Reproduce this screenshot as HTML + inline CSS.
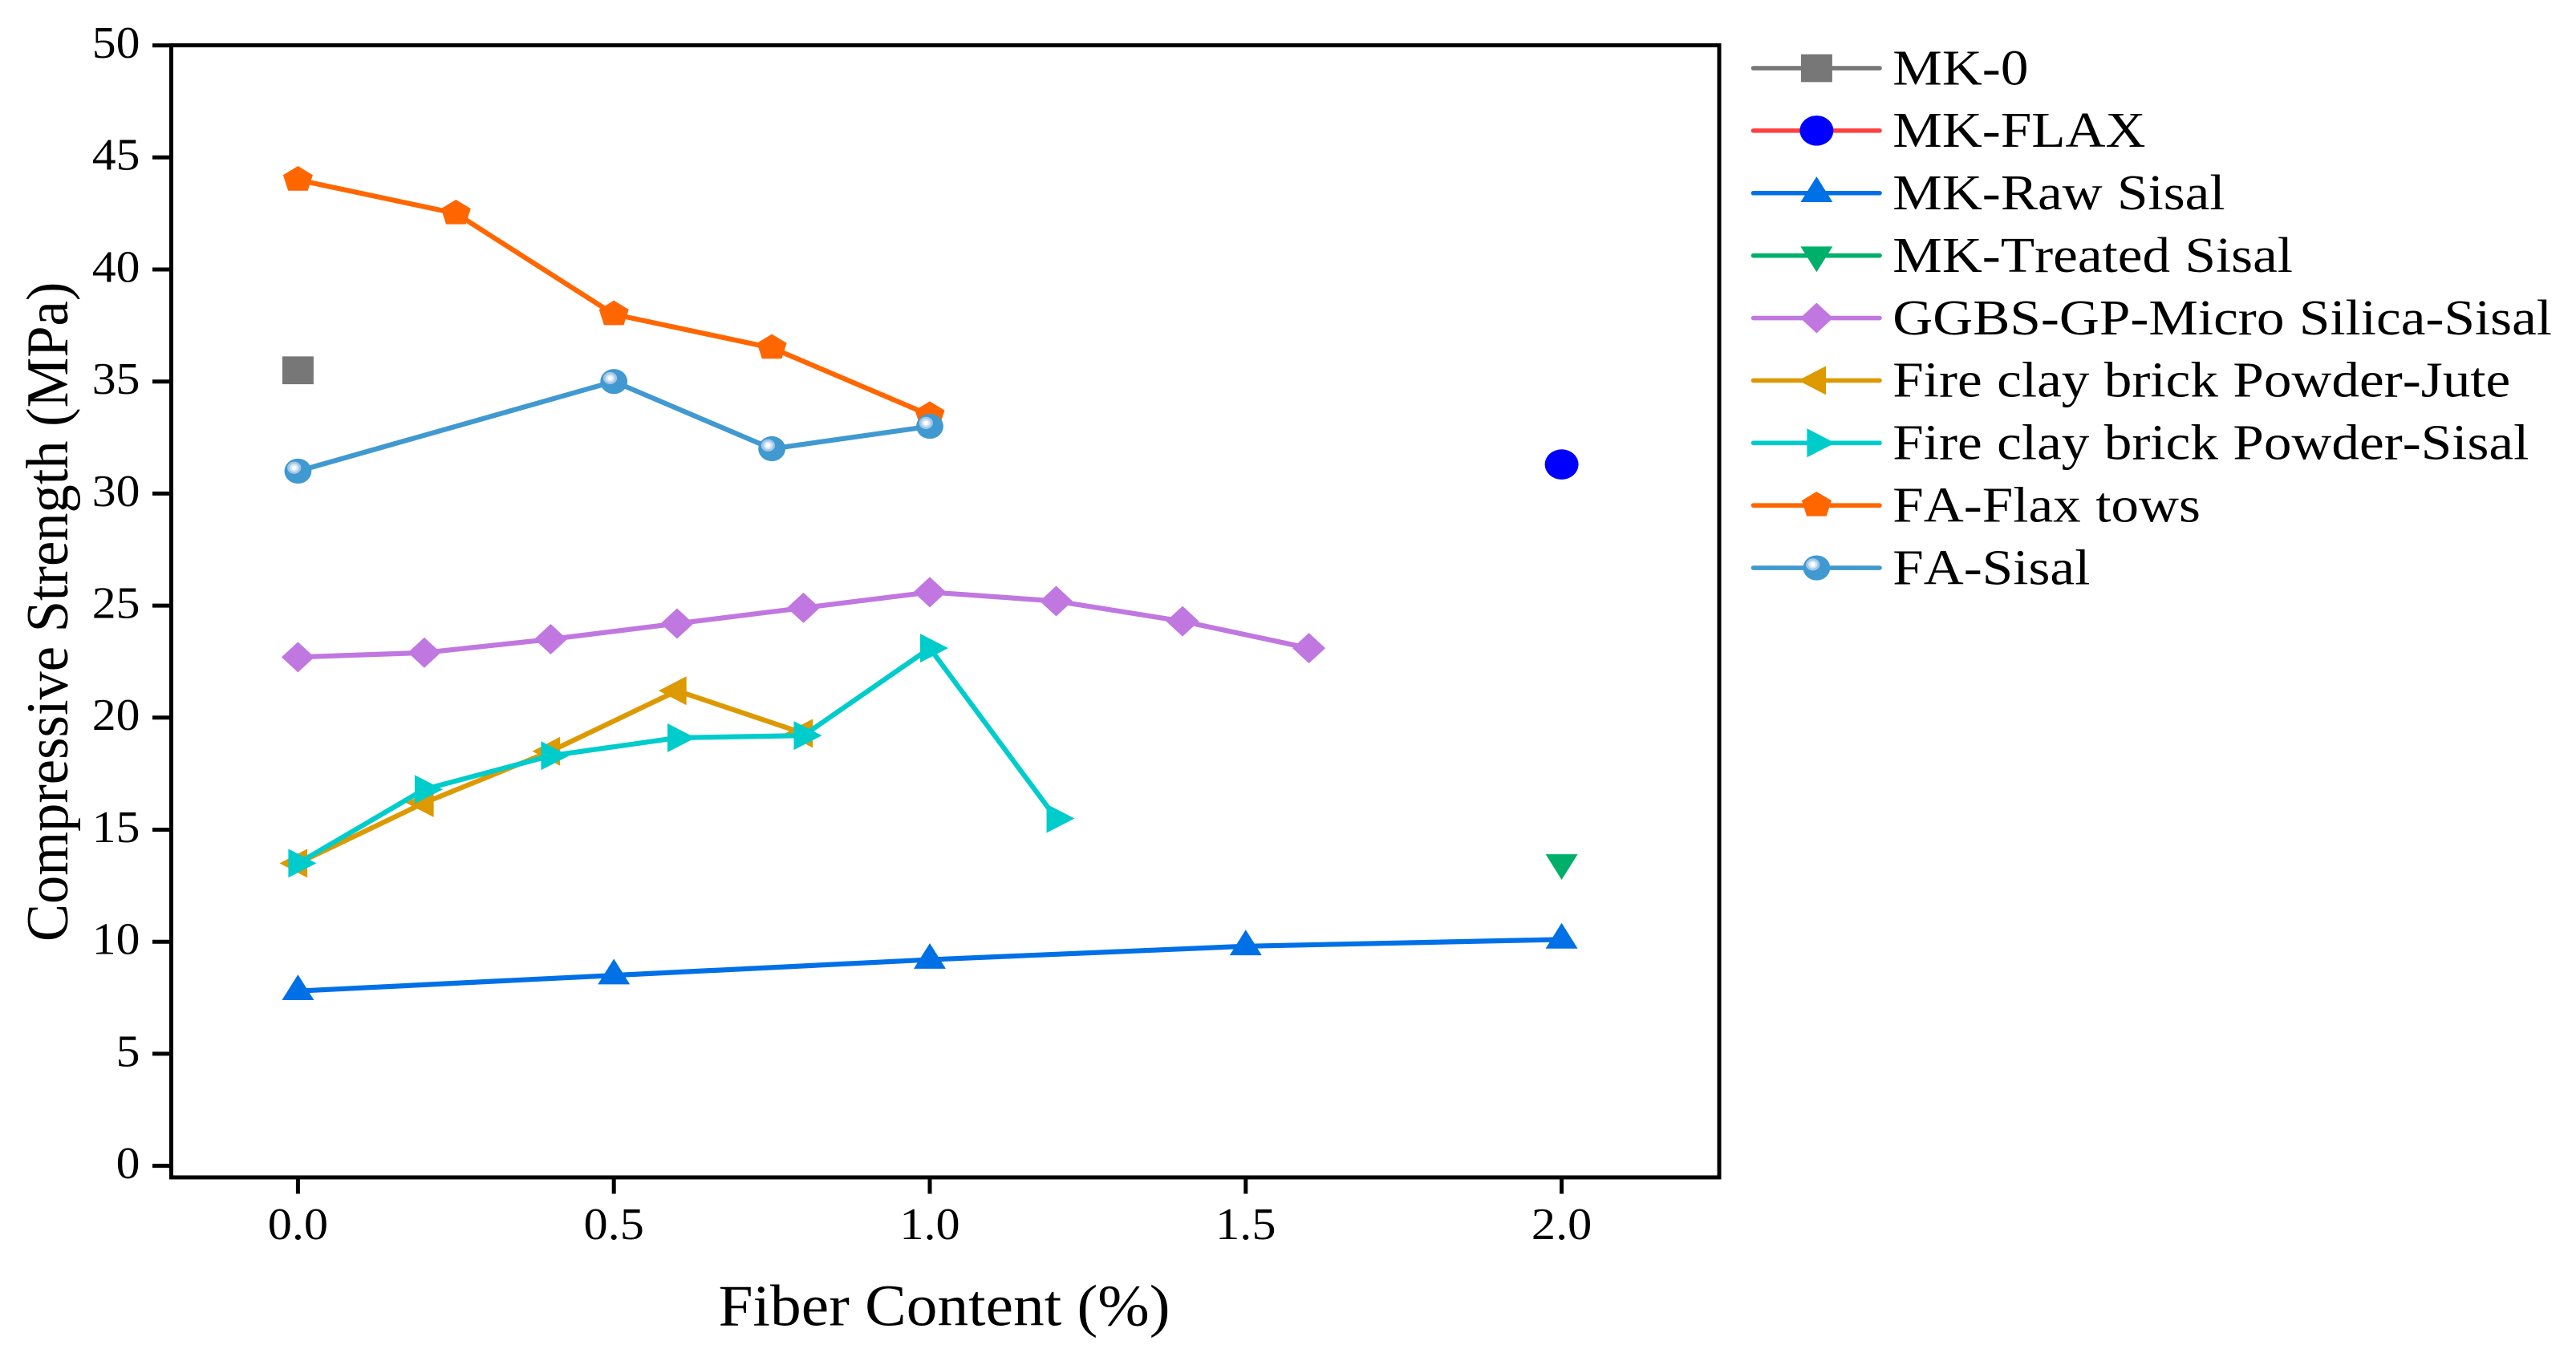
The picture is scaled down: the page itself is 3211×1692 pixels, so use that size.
<!DOCTYPE html>
<html lang="en">
<head>
<meta charset="utf-8">
<title>Compressive Strength vs Fiber Content</title>
<style>
html,body{margin:0;padding:0;background:#fff;}
svg{display:block;}
text{font-family:"Liberation Serif",serif;fill:#000;font-kerning:none;}
</style>
</head>
<body>
<svg id="chart" xmlns="http://www.w3.org/2000/svg" width="3211" height="1692" viewBox="0 0 3211 1692">
  <rect width="3211" height="1692" fill="#fff"/>
  <g id="plot"></g>
  <rect x="213.5" y="56.5" width="1929.5" height="1411.5" fill="none" stroke="#000" stroke-width="5"/>
  <g id="ticks"></g>
  <text transform="translate(895.5,1652.3) scale(1.06,1)" font-size="73">Fiber Content (%)</text>
  <text transform="translate(84,1174) scale(1.055,1) rotate(-90)" font-size="70.5">Compressive Strength (MPa)</text>
  <g id="legend"></g>
</svg>
<script>
const xTicks = [0, 0.5, 1, 1.5, 2];
const xTickLabels = ['0.0', '0.5', '1.0', '1.5', '2.0'];
const yTicks = [0, 5, 10, 15, 20, 25, 30, 35, 40, 45, 50];
const yTickLabels = ['0', '5', '10', '15', '20', '25', '30', '35', '40', '45', '50'];

const seriesNames = ['MK-0', 'MK-FLAX', 'MK-Raw Sisal', 'MK-Treated Sisal', 'GGBS-GP-Micro Silica-Sisal', 'Fire clay brick Powder-Jute', 'Fire clay brick Powder-Sisal', 'FA-Flax tows', 'FA-Sisal'];

const mk0X = [0];
const mk0Y = [35.5];
const mkFlaxX = [2];
const mkFlaxY = [31.3];
const mkRawSisalX = [0, 0.5, 1, 1.5, 2];
const mkRawSisalY = [7.8, 8.5, 9.2, 9.8, 10.1];
const mkTreatedSisalX = [2];
const mkTreatedSisalY = [13.5];
const ggbsX = [0, 0.2, 0.4, 0.6, 0.8, 1, 1.2, 1.4, 1.6];
const ggbsY = [22.7, 22.9, 23.5, 24.2, 24.9, 25.6, 25.2, 24.3, 23.1];
const brickJuteX = [0, 0.2, 0.4, 0.6, 0.8];
const brickJuteY = [13.5, 16.2, 18.5, 21.2, 19.3];
const brickSisalX = [0, 0.2, 0.4, 0.6, 0.8, 1, 1.2];
const brickSisalY = [13.5, 16.8, 18.3, 19.1, 19.2, 23.1, 15.5];
const faFlaxX = [0, 0.25, 0.5, 0.75, 1];
const faFlaxY = [44, 42.5, 38, 36.5, 33.5];
const faSisalX = [0, 0.5, 0.75, 1];
const faSisalY = [31, 35, 32, 33];

const allX = [mk0X, mkFlaxX, mkRawSisalX, mkTreatedSisalX, ggbsX, brickJuteX, brickSisalX, faFlaxX, faSisalX];
const allY = [mk0Y, mkFlaxY, mkRawSisalY, mkTreatedSisalY, ggbsY, brickJuteY, brickSisalY, faFlaxY, faSisalY];
const lineColors = ['#777777', '#ff4040', '#0070e6', '#00b06a', '#c078e0', '#dd9900', '#00cccc', '#ff6600', '#4099d0'];
const markerColors = ['#777777', '#0000ff', '#0070e6', '#00b06a', '#c078e0', '#dd9900', '#00cccc', '#ff6600', '#4099d0'];
const markerShapes = ['square', 'circle', 'up', 'down', 'diamond', 'left', 'right', 'pentagon', 'sphere'];

const SVGNS = 'http://www.w3.org/2000/svg';
const scaleX = v => 371.4 + v * 787.6;
const scaleY = v => 1453.6 - v * 27.94;

function make(tag, attrs) {
  const el = document.createElementNS(SVGNS, tag);
  for (const k in attrs) el.setAttribute(k, attrs[k]);
  return el;
}

function polygonPoints(cx, cy, pts) {
  return pts.map(p => (cx + p[0]) + ',' + (cy + p[1])).join(' ');
}

function makeMarker(shape, cx, cy, fill) {
  if (shape === 'square') return make('rect', {x: cx - 19.5, y: cy - 17.35, width: 39, height: 34.7, fill: fill});
  if (shape === 'circle') return make('ellipse', {cx: cx, cy: cy, rx: 21, ry: 18.8, fill: fill});
  if (shape === 'sphere') {
    const g = make('g', {});
    g.appendChild(make('ellipse', {cx: cx, cy: cy, rx: 16.9, ry: 15.6, fill: fill}));
    g.appendChild(make('ellipse', {cx: cx - 4.7, cy: cy - 4.2, rx: 8.6, ry: 7.6, fill: '#a4c6e6'}));
    g.appendChild(make('ellipse', {cx: cx - 4.7, cy: cy - 4.2, rx: 5.6, ry: 5, fill: '#d4e6f5'}));
    g.appendChild(make('ellipse', {cx: cx - 4.7, cy: cy - 4.2, rx: 3, ry: 2.8, fill: '#ffffff'}));
    return g;
  }
  const shapes = {
    up: [[0, -20.6], [20, 11.3], [-20, 11.3]],
    down: [[0, 20.6], [20, -11.3], [-20, -11.3]],
    diamond: [[0, -19], [20.5, 0], [0, 19], [-20.5, 0]],
    left: [[-23, 0], [11.7, -18], [11.7, 18]],
    right: [[23, 0], [-12, -18], [-12, 18]],
    pentagon: [[0, -17.2], [18.5, -6], [12.3, 13.5], [-12.3, 13.5], [-18.5, -6]]
  };
  return make('polygon', {points: polygonPoints(cx, cy, shapes[shape]), fill: fill});
}

const plot = document.getElementById('plot');
seriesNames.forEach((name, i) => {
  const slug = name.toLowerCase().replace(/[^a-z0-9]+/g, '-');
  const g = make('g', {});
  
  
  const xs = allX[i];
  const ys = allY[i];
  if (xs.length > 1) {
    const pts = xs.map((x, j) => scaleX(x) + ',' + scaleY(ys[j])).join(' ');
    const line = make('polyline', {points: pts, fill: 'none', stroke: lineColors[i], 'stroke-width': 6.2, 'stroke-linejoin': 'round'});
    
    
    g.appendChild(line);
  }
  xs.forEach((x, j) => {
    const m = makeMarker(markerShapes[i], scaleX(x), scaleY(ys[j]), markerColors[i]);
    
    
    g.appendChild(m);
  });
  plot.appendChild(g);
});

const ticks = document.getElementById('ticks');
xTicks.forEach((v, i) => {
  const t = make('line', {x1: scaleX(v), x2: scaleX(v), y1: 1468, y2: 1488.5, stroke: '#000', 'stroke-width': 5});
  
  
  ticks.appendChild(t);
  const l = make('text', {transform: 'translate(' + scaleX(v) + ',1544.8) scale(1.065,1)', 'font-size': 56.6, 'text-anchor': 'middle'});
  
  
  l.textContent = xTickLabels[i];
  ticks.appendChild(l);
});
yTicks.forEach((v, i) => {
  const t = make('line', {x1: 190, x2: 213.5, y1: scaleY(v), y2: scaleY(v), stroke: '#000', 'stroke-width': 5});
  
  
  ticks.appendChild(t);
  const l = make('text', {transform: 'translate(174.5,' + (scaleY(v) + 15.4) + ') scale(1.055,1)', 'font-size': 56.6, 'text-anchor': 'end'});
  
  
  l.textContent = yTickLabels[i];
  ticks.appendChild(l);
});

const legend = document.getElementById('legend');
seriesNames.forEach((name, i) => {
  const rowY = 85 + i * 77.88;
  const g = make('g', {});
  
  
  const line = make('line', {x1: 2185.5, x2: 2343, y1: rowY, y2: rowY, stroke: lineColors[i], 'stroke-width': 5.6, 'stroke-linecap': 'round'});
  
  
  g.appendChild(line);
  const m = makeMarker(markerShapes[i], 2264.4, rowY, markerColors[i]);
  
  
  g.appendChild(m);
  const t = make('text', {transform: 'translate(2359.3,' + (rowY + 20.3) + ') scale(1.116,1)', 'font-size': 62, 'word-spacing': 1});
  
  
  t.textContent = name;
  g.appendChild(t);
  legend.appendChild(g);
});
</script>
</body>
</html>
